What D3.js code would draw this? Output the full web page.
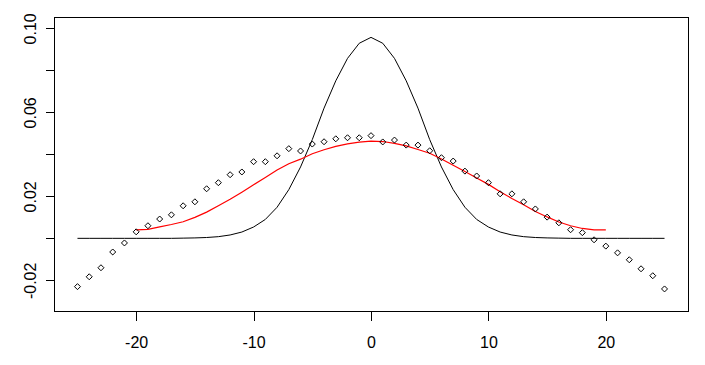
<!DOCTYPE html>
<html>
<head>
<meta charset="utf-8">
<script src="https://cdn.jsdelivr.net/npm/d3@7"></script>
<style>
  body { margin: 0; background: #fff; }
  text { font-family: "Liberation Sans", Arial, sans-serif; font-size: 16px; fill: #000; }
</style>
</head>
<body>
<svg id="canvas"></svg>
<script>
// Data
const xTicks = [-20, -10, 0, 10, 20];
const xTickLabels = ["-20", "-10", "0", "10", "20"];
const yTicks = [-0.02, 0, 0.02, 0.04, 0.06, 0.08, 0.10];
const yTickLabels = ["-0.02", "", "0.02", "", "0.06", "", "0.10"];

// black curve, x = -25..25
const curveX = d3.range(-25, 26);
const curveY = [0, 0, 0, 0, 0, 0, 0, 0, 0, 0.0001,
  0.0002, 0.0004, 0.0008, 0.0016, 0.0030, 0.0054, 0.0090, 0.0148, 0.0232, 0.0340,
  0.0470, 0.0620, 0.0750, 0.0857, 0.0929, 0.0957, 0.0929, 0.0857, 0.0750, 0.0620,
  0.0470, 0.0340, 0.0232, 0.0148, 0.0090, 0.0054, 0.0030, 0.0016, 0.0008, 0.0004,
  0.0002, 0.0001, 0, 0, 0, 0, 0, 0, 0, 0, 0];

// diamond points, x = -25..25
const pointX = d3.range(-25, 26);
const pointY = [-0.0230, -0.0183, -0.0140, -0.0065, -0.0022, 0.0031, 0.0060, 0.0092, 0.0112, 0.0155,
  0.0174, 0.0236, 0.0265, 0.0303, 0.0316, 0.0365, 0.0365, 0.0393, 0.0427, 0.0416,
  0.0449, 0.0460, 0.0474, 0.0479, 0.0479, 0.0489, 0.0459, 0.0468, 0.0444, 0.0444,
  0.0417, 0.0384, 0.0368, 0.0320, 0.0297, 0.0265, 0.0212, 0.0212, 0.0174, 0.0140,
  0.0101, 0.0074, 0.0041, 0.0027, -0.0007, -0.0037, -0.0069, -0.0102, -0.0145, -0.0178,
  -0.0241];

// red smooth curve, x = -20..20
const redX = d3.range(-20, 21);
const redY = [0.0040, 0.0043, 0.0055, 0.0066, 0.0079, 0.0100, 0.0125, 0.0155, 0.0186, 0.0220,
  0.0255, 0.0290, 0.0325, 0.0355, 0.0377, 0.0403, 0.0422, 0.0438, 0.0450, 0.0458,
  0.0463, 0.0461, 0.0452, 0.0440, 0.0423, 0.0405, 0.0378, 0.0348, 0.0318, 0.0287,
  0.0257, 0.0222, 0.0190, 0.0160, 0.0128, 0.0102, 0.0078, 0.0060, 0.0047, 0.0040,
  0.0040];

const width = 705, height = 365;
const plotLeft = 54, plotRight = 688, plotTop = 17, plotBottom = 311;

const svg = d3.select("#canvas").attr("width", width).attr("height", height);

const x = d3.scaleLinear().domain([-27, 27]).range([plotLeft, plotRight]);
const y = d3.scaleLinear().domain([-0.0346, 0.1054]).range([plotBottom, plotTop]);

// plot box
svg.append("rect")
   .attr("x", plotLeft + 0.5).attr("y", plotTop + 0.5)
   .attr("width", plotRight - plotLeft).attr("height", plotBottom - plotTop)
   .attr("fill", "none").attr("stroke", "#000")
   .attr("shape-rendering", "crispEdges");

// x axis
const xAxis = svg.append("g")
   .attr("transform", `translate(0,${plotBottom + 0.5})`)
   .call(d3.axisBottom(x).tickValues(xTicks).tickSize(9).tickPadding(16).tickFormat((d, i) => xTickLabels[i]));
xAxis.select(".domain").remove();
xAxis.selectAll("line").attr("shape-rendering", "crispEdges");
xAxis.selectAll("text").style("font-size", "16px").style("font-family", "'Liberation Sans', Arial, sans-serif");

// y axis with rotated labels
const yAxis = svg.append("g")
   .attr("transform", `translate(${plotLeft + 0.5},0)`)
   .call(d3.axisLeft(y).tickValues(yTicks).tickSize(9).tickFormat((d, i) => yTickLabels[i]));
yAxis.select(".domain").remove();
yAxis.selectAll("line").attr("shape-rendering", "crispEdges");
yAxis.selectAll("text")
   .attr("x", null).attr("dy", null)
   .attr("text-anchor", "middle")
   .attr("transform", "translate(-19,0) rotate(-90)")
   .style("font-size", "16px").style("font-family", "'Liberation Sans', Arial, sans-serif");

const line = d3.line().x(d => x(d[0])).y(d => y(d[1]));

// black curve
svg.append("path")
   .datum(curveX.map((v, i) => [v, curveY[i]]))
   .attr("d", line)
   .attr("fill", "none").attr("stroke", "#000").attr("stroke-width", 1);

// red curve
svg.append("path")
   .datum(redX.map((v, i) => [v, redY[i]]))
   .attr("d", line)
   .attr("fill", "none").attr("stroke", "#ff0000").attr("stroke-width", 1.2);

// diamonds
const r = 3;
svg.append("g").selectAll("path")
   .data(pointX.map((v, i) => [v, pointY[i]]))
   .enter()
   .append("path")
   .attr("d", d => {
      const cx = x(d[0]), cy = y(d[1]);
      return `M${cx},${cy - r}L${cx + r},${cy}L${cx},${cy + r}L${cx - r},${cy}Z`;
   })
   .attr("fill", "none").attr("stroke", "#000").attr("stroke-width", 1);
</script>
</body>
</html>
